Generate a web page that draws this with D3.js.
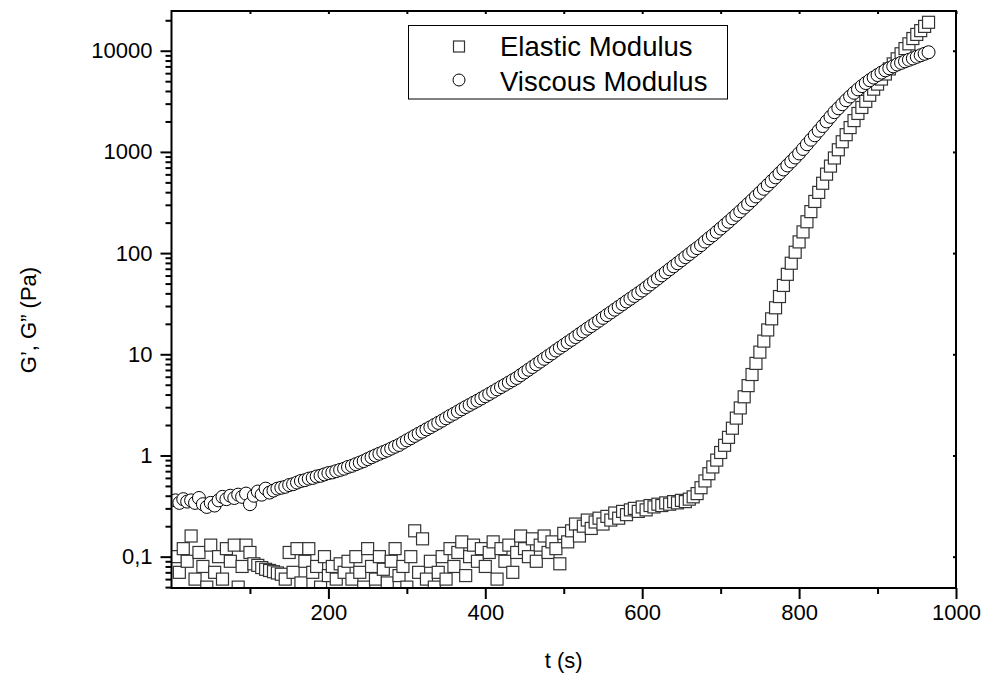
<html>
    <head>
        <title>moduli</title>
        <script src="https://d3js.org/d3.v7.min.js"></script>
        <script>
            // time (s)
            const time = [
                5, 10, 15, 20, 25, 30, 35, 40, 45, 50,
                55, 60, 65, 70, 75, 80, 85, 90, 95, 100,
                105, 110, 115, 120, 125, 130, 135, 140, 145, 150,
                155, 160, 165, 170, 175, 180, 185, 190, 195, 200,
                205, 210, 215, 220, 225, 230, 235, 240, 245, 250,
                255, 260, 265, 270, 275, 280, 285, 290, 295, 300,
                305, 310, 315, 320, 325, 330, 335, 340, 345, 350,
                355, 360, 365, 370, 375, 380, 385, 390, 395, 400,
                405, 410, 415, 420, 425, 430, 435, 440, 445, 450,
                455, 460, 465, 470, 475, 480, 485, 490, 495, 500,
                505, 510, 515, 520, 525, 530, 535, 540, 545, 550,
                555, 560, 565, 570, 575, 580, 585, 590, 595, 600,
                605, 610, 615, 620, 625, 630, 635, 640, 645, 650,
                655, 660, 665, 670, 675, 680, 685, 690, 695, 700,
                705, 710, 715, 720, 725, 730, 735, 740, 745, 750,
                755, 760, 765, 770, 775, 780, 785, 790, 795, 800,
                805, 810, 815, 820, 825, 830, 835, 840, 845, 850,
                855, 860, 865, 870, 875, 880, 885, 890, 895, 900,
                905, 910, 915, 920, 925, 930, 935, 940, 945, 950,
                955, 960, 965
            ];

            // G' (Pa)
            const elastic = [
                0.10, 0.07, 0.12, 0.09, 0.16, 0.06, 0.11, 0.08, 0.05, 0.13,
                0.07, 0.10, 0.06, 0.12, 0.09, 0.13, 0.05, 0.08, 0.13, 0.11,
                0.085, 0.082, 0.078, 0.075, 0.073, 0.071, 0.069, 0.067, 0.06, 0.11,
                0.07, 0.12, 0.055, 0.09, 0.12, 0.07, 0.08, 0.05, 0.10, 0.065,
                0.08, 0.06, 0.085, 0.07, 0.09, 0.06, 0.10, 0.07, 0.05, 0.12,
                0.08, 0.06, 0.10, 0.075, 0.055, 0.09, 0.12, 0.065, 0.08, 0.05,
                0.10, 0.18, 0.07, 0.15, 0.06, 0.09, 0.05, 0.07, 0.10, 0.06,
                0.12, 0.08, 0.11, 0.14, 0.065, 0.10, 0.13, 0.09, 0.12, 0.08,
                0.11, 0.14, 0.06, 0.12, 0.09, 0.13, 0.07, 0.11, 0.16, 0.12,
                0.10, 0.15, 0.09, 0.13, 0.16, 0.11, 0.14, 0.12, 0.085, 0.17,
                0.14, 0.18, 0.21, 0.16, 0.20, 0.23, 0.19, 0.22, 0.24, 0.21,
                0.25, 0.23, 0.27, 0.24, 0.28, 0.26, 0.29, 0.30, 0.28, 0.31,
                0.29, 0.32, 0.31, 0.33, 0.32, 0.34, 0.33, 0.35, 0.34, 0.36,
                0.35, 0.37, 0.39, 0.42, 0.48, 0.56, 0.66, 0.77, 0.90, 1.07,
                1.26, 1.51, 1.86, 2.34, 2.95, 3.80, 4.90, 6.31, 8.13, 10.5,
                13.5, 17.4, 22.4, 28.8, 37.2, 47.9, 61.7, 79.4, 102, 129,
                162, 204, 257, 324, 398, 490, 603, 724, 871, 1050,
                1260, 1480, 1740, 2040, 2400, 2750, 3160, 3630, 4170, 4680,
                5250, 5890, 6610, 7410, 8320, 9330, 10500, 11700, 13200, 14500,
                15800, 17400, 19100
            ];

            // G'' (Pa)
            const viscous = [
                0.36, 0.34, 0.37, 0.35, 0.36, 0.34, 0.38, 0.33, 0.31, 0.34,
                0.32, 0.36, 0.39, 0.37, 0.40, 0.38, 0.41, 0.39, 0.42, 0.33,
                0.40, 0.44, 0.41, 0.47, 0.43, 0.45, 0.47, 0.48, 0.49, 0.51,
                0.52, 0.54, 0.56, 0.57, 0.59, 0.60, 0.62, 0.63, 0.65, 0.67,
                0.68, 0.70, 0.72, 0.74, 0.77, 0.79, 0.82, 0.85, 0.88, 0.92,
                0.96, 1.00, 1.04, 1.08, 1.12, 1.17, 1.22, 1.27, 1.34, 1.41,
                1.48, 1.56, 1.64, 1.72, 1.81, 1.90, 2.00, 2.10, 2.21, 2.33,
                2.46, 2.58, 2.72, 2.86, 3.01, 3.16, 3.32, 3.48, 3.66, 3.85,
                4.05, 4.27, 4.50, 4.74, 4.99, 5.26, 5.54, 5.83, 6.21, 6.61,
                7.03, 7.48, 7.96, 8.47, 9.02, 9.59, 10.2, 10.9, 11.6, 12.3,
                13.1, 13.9, 14.8, 15.8, 16.8, 17.9, 19.0, 20.2, 21.5, 22.9,
                24.4, 25.9, 27.6, 29.4, 31.3, 33.3, 35.4, 37.7, 40.1, 42.7,
                45.7, 49.0, 52.5, 56.2, 60.3, 64.6, 69.2, 74.1, 79.4, 85.1,
                91.2, 97.7, 105, 112, 120, 130, 140, 150, 162, 175,
                189, 204, 221, 239, 259, 282, 306, 333, 363, 395,
                432, 471, 514, 561, 614, 671, 735, 804, 881, 966,
                1070, 1190, 1320, 1460, 1620, 1800, 2000, 2220, 2470, 2700,
                2960, 3240, 3530, 3840, 4150, 4470, 4790, 5110, 5430, 5750,
                6080, 6400, 6710, 7010, 7310, 7590, 7850, 8130, 8390, 8710,
                9020, 9330, 9660
            ];

            const xTicks = [200, 400, 600, 800, 1000];
            const xTickLabels = ["200", "400", "600", "800", "1000"];
            const xMinorTicks = [100, 300, 500, 700, 900];
            const yTicks = [0.1, 1, 10, 100, 1000, 10000];
            const yTickLabels = ["0,1", "1", "10", "100", "1000", "10000"];
            const seriesNames = ["Elastic Modulus", "Viscous Modulus"];

            document.addEventListener('DOMContentLoaded', function(){
                const w = 987;
                const h = 680;
                const left = 171.5, right = 956, top = 11, bottom = 588;
                const font = "'Liberation Sans', Arial, sans-serif";

                const svg = d3.select("body")
                    .append("svg")
                    .attr("width", w)
                    .attr("height", h)
                    .style("font-family", font);

                const xScale = d3.scaleLinear()
                    .domain([0, 1000])
                    .range([left, right]);
                const yScale = d3.scaleLog()
                    .domain([0.049, 24700])
                    .range([bottom, top]);

                // minor log ticks 2..9 per decade
                const yMinor = [];
                for (let e = -2; e <= 4; e++) {
                    for (let m = 2; m <= 9; m++) {
                        const v = m * Math.pow(10, e);
                        if (v >= 0.049 && v <= 24700) yMinor.push(v);
                    }
                }

                svg.append("clipPath").attr("id", "plot-clip")
                    .append("rect")
                    .attr("x", left).attr("y", top)
                    .attr("width", right - left).attr("height", bottom - top);

                const plot = svg.append("g").attr("clip-path", "url(#plot-clip)");

                // elastic squares first, viscous circles on top
                plot.selectAll("rect.el")
                    .data(time)
                    .enter()
                    .append("rect")
                    .attr("class", "el")
                    .attr("x", (d, i) => xScale(d) - 6)
                    .attr("y", (d, i) => yScale(elastic[i]) - 6)
                    .attr("width", 12)
                    .attr("height", 12)
                    .attr("fill", "white")
                    .attr("stroke", "#333")
                    .attr("stroke-width", 1.2);

                plot.selectAll("circle.vi")
                    .data(time)
                    .enter()
                    .append("circle")
                    .attr("class", "vi")
                    .attr("cx", (d) => xScale(d))
                    .attr("cy", (d, i) => yScale(viscous[i]))
                    .attr("r", 6.5)
                    .attr("fill", "white")
                    .attr("stroke", "black")
                    .attr("stroke-width", 1);

                // axes
                const xAxis = d3.axisBottom(xScale).tickValues(xTicks).tickSize(11).tickPadding(5)
                    .tickFormat((d, i) => xTickLabels[i]);
                const xMinorAxis = d3.axisBottom(xScale).tickValues(xMinorTicks).tickSize(6).tickFormat("");
                const yAxis = d3.axisLeft(yScale).tickValues(yTicks).tickSize(11).tickPadding(8)
                    .tickFormat((d, i) => yTickLabels[i]);
                const yMinorAxis = d3.axisLeft(yScale).tickValues(yMinor).tickSize(6).tickFormat("");
                const topAxis = d3.axisBottom(xScale).tickValues(xMinorTicks.concat(xTicks)).tickSize(3).tickFormat("");
                const rightAxis = d3.axisLeft(yScale).tickValues(yTicks).tickSize(3).tickFormat("");

                svg.append("g").attr("id", "x-axis")
                    .attr("transform", "translate(0," + bottom + ")").call(xAxis);
                svg.append("g").attr("transform", "translate(0," + bottom + ")").call(xMinorAxis);
                svg.append("g").attr("id", "y-axis")
                    .attr("transform", "translate(" + left + ",0)").call(yAxis);
                svg.append("g").attr("transform", "translate(" + left + ",0)").call(yMinorAxis);
                svg.append("g").attr("transform", "translate(0," + top + ")").call(topAxis);
                svg.append("g").attr("transform", "translate(" + right + ",0)").call(rightAxis);

                svg.selectAll(".domain").remove();
                svg.selectAll(".tick line").attr("stroke", "black").attr("stroke-width", 2);
                svg.selectAll(".tick text")
                    .attr("fill", "black")
                    .attr("font-family", font)
                    .attr("font-size", 22)
                    .style("font-family", font)
                    .style("font-size", "22px");

                // frame
                svg.append("rect")
                    .attr("x", left).attr("y", top)
                    .attr("width", right - left).attr("height", bottom - top)
                    .attr("fill", "none")
                    .attr("stroke", "black")
                    .attr("stroke-width", 2);

                // axis titles
                svg.append("text")
                    .attr("x", (left + right) / 2)
                    .attr("y", 668)
                    .attr("text-anchor", "middle")
                    .style("font-size", "22px")
                    .text("t (s)");
                svg.append("text")
                    .attr("transform", "translate(36,320) rotate(-90)")
                    .attr("text-anchor", "middle")
                    .style("font-size", "22px")
                    .text("G\u2019, G\u201D (Pa)");

                // legend
                const lg = svg.append("g");
                lg.append("rect")
                    .attr("x", 408.5).attr("y", 25.5)
                    .attr("width", 319).attr("height", 73.5)
                    .attr("fill", "white")
                    .attr("stroke", "black")
                    .attr("stroke-width", 1);
                lg.append("rect")
                    .attr("x", 453.5).attr("y", 41)
                    .attr("width", 11).attr("height", 11)
                    .attr("fill", "white").attr("stroke", "#333").attr("stroke-width", 1.2);
                lg.append("circle")
                    .attr("cx", 459).attr("cy", 80).attr("r", 6)
                    .attr("fill", "white").attr("stroke", "black");
                lg.selectAll("text.leg")
                    .data(seriesNames)
                    .enter()
                    .append("text")
                    .attr("class", "leg")
                    .attr("x", 500)
                    .attr("y", (d, i) => 55.5 + i * 35)
                    .style("font-size", "27.5px")
                    .text(d => d);
            });
        </script>
        <style>
            body { margin: 0; background: white; }
        </style>
    </head>
    <body>
    </body>
</html>
